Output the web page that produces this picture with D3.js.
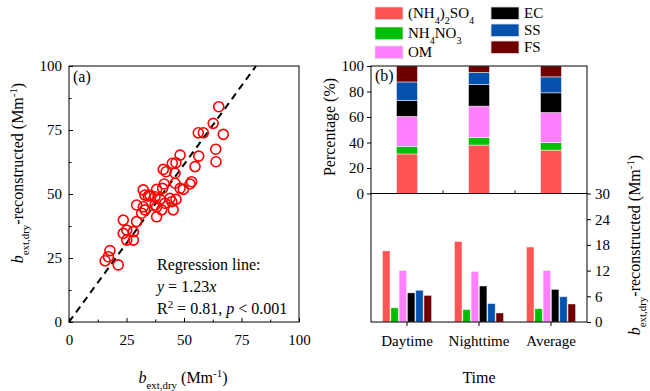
<!DOCTYPE html>
<html>
<head>
<meta charset="utf-8">
<script src="https://cdn.jsdelivr.net/npm/d3@7"></script>
<style>
body{margin:0;background:#fff;}
</style>
</head>
<body>
<div id="chart"></div>
<script>
// (a) scatter: b_ext,dry vs reconstructed
var scatter_x = [65.1,62.7,56.2,58.4,67.1,63.8,63.9,48.3,46.5,56.4,54.8,44.9,41.0,42.2,46.1,53.3,46.1,41.4,49.7,38.1,
                 40.7,32.3,34.5,37.4,46.5,39.6,41.7,29.4,32.3,38.1,33.0,35.2,48.3,52.6,37.4,33.0,40.3,44.7,45.3,31.6,
                 23.6,29.4,25.1,23.6,28.0,25.1,28.0,17.8,17.1,15.7,21.4,43.9,38.1];
var scatter_y = [84.1,77.6,73.9,73.9,73.3,67.5,62.6,65.2,62.2,64.8,60.7,62.0,59.6,58.7,58.1,54.8,54.2,53.9,51.8,51.8,
                 52.2,51.6,49.2,48.9,47.9,47.9,46.4,45.7,45.0,45.0,49.6,49.6,52.2,53.9,45.7,43.8,43.8,47.0,43.8,42.5,
                 39.8,39.2,35.9,34.6,35.3,32.0,32.0,27.9,25.5,23.9,22.3,48.3,41.1];
var slope = 1.23;

// (b) composition
var times = ['Daytime', 'Nighttime', 'Average'];
var species = ['ASO', 'AN', 'OM', 'EC', 'SS', 'FS'];
var species_colors = ['#fe5454', '#00bf00', '#ff80ff', '#000000', '#0451ae', '#6e0000'];
var pct_daytime = [31, 6, 23.5, 12.5, 14.5, 12.5];
var pct_nighttime = [38, 6, 24.5, 17, 9.5, 5];
var pct_average = [34, 6, 23.5, 15.5, 12.5, 8.5];
var ext_daytime = [16.6, 3.3, 12.0, 6.8, 7.4, 6.2];
var ext_nighttime = [18.8, 2.9, 11.8, 8.4, 4.3, 2.1];
var ext_average = [17.5, 3.1, 12.0, 7.6, 5.9, 4.2];
var x_ticks_a = [0, 25, 50, 75, 100];
var y_ticks_pct = [0, 20, 40, 60, 80, 100];
var y_ticks_ext = [0, 6, 12, 18, 24, 30];

// label parts: [text, style]  style: '' normal, 'i' italic, 'sub', 'sup'
var legend_labels = [
    [['(NH',''],['4','sub'],[')',''],['2','sub'],['SO',''],['4','sub']],
    [['NH',''],['4','sub'],['NO',''],['3','sub']],
    [['OM','']],
    [['EC','']],
    [['SS','']],
    [['FS','']]
];

var FONT = 'Liberation Serif';

function rich(sel, parts, size) {
    parts.forEach(function (p) {
        var t = sel.append('tspan').text(p[0]);
        if (p[1] == 'i') t.attr('font-style', 'italic');
        if (p[1] == 'sub') t.attr('baseline-shift', 'sub').attr('font-size', size * 0.68);
        if (p[1] == 'sup') t.attr('baseline-shift', 'super').attr('font-size', size * 0.68);
    });
    return sel;
}

var W = 650, H = 391;
var svg = d3.select('#chart').append('svg').attr('width', W).attr('height', H);

// ---------- panel (a) ----------
var xa = d3.scaleLinear().domain([0, 100]).range([69, 299]);
var ya = d3.scaleLinear().domain([0, 100]).range([322, 66]);
var ga = svg.append('g');

ga.append('g').attr('transform', 'translate(0,322)')
    .call(d3.axisBottom(xa).tickValues(x_ticks_a).tickSize(-4).tickPadding(12))
    .call(g => g.select('.domain').remove());
ga.append('g').attr('transform', 'translate(0,322)')
    .call(d3.axisBottom(xa).tickValues([12.5, 37.5, 62.5, 87.5]).tickSize(-2.5).tickFormat(''))
    .call(g => g.select('.domain').remove());
ga.append('g').attr('transform', 'translate(69,0)')
    .call(d3.axisLeft(ya).tickValues(x_ticks_a).tickSize(-4).tickPadding(7))
    .call(g => g.select('.domain').remove());
ga.append('g').attr('transform', 'translate(69,0)')
    .call(d3.axisLeft(ya).tickValues([12.5, 37.5, 62.5, 87.5]).tickSize(-2.5).tickFormat(''))
    .call(g => g.select('.domain').remove());
ga.selectAll('.tick text').attr('font-size', 15);

ga.append('rect').attr('x', 69).attr('y', 66).attr('width', 230).attr('height', 256)
    .attr('fill', 'none').attr('stroke', '#000').attr('stroke-width', 1);

ga.append('line')
    .attr('x1', xa(0)).attr('y1', ya(0)).attr('x2', xa(100 / slope)).attr('y2', ya(100))
    .attr('stroke', '#000').attr('stroke-width', 2).attr('stroke-dasharray', '7,5');

ga.selectAll('circle.pt').data(scatter_x).enter().append('circle')
    .attr('class', 'pt')
    .attr('cx', (d, i) => xa(d)).attr('cy', (d, i) => ya(scatter_y[i]))
    .attr('r', 5).attr('fill', 'none').attr('stroke', '#ff0000').attr('stroke-width', 1.6);

ga.append('text').attr('x', 73).attr('y', 82).attr('font-size', 16).text('(a)');
ga.append('text').attr('x', 157).attr('y', 270).attr('font-size', 16).text('Regression line:');
rich(ga.append('text').attr('x', 157).attr('y', 292).attr('font-size', 16),
    [['y','i'],[' = 1.23',''],['x','i']], 16);
rich(ga.append('text').attr('x', 157).attr('y', 314).attr('font-size', 16),
    [['R',''],['2','sup'],[' = 0.81, ',''],['p','i'],[' < 0.001','']], 16);

rich(ga.append('text').attr('x', 183).attr('y', 383).attr('font-size', 16).attr('text-anchor', 'middle'),
    [['b','i'],['ext,dry','sub'],[' (Mm',''],['-1','sup'],[')','']], 16);
rich(ga.append('text').attr('transform', 'translate(23,173) rotate(-90)').attr('font-size', 16).attr('text-anchor', 'middle'),
    [['b','i'],['ext,dry','sub'],['-reconstructed (Mm',''],['-1','sup'],[')','']], 16);

// ---------- panel (b) ----------
var xb = d3.scaleBand().domain(times).range([371, 587]);
var yp = d3.scaleLinear().domain([0, 100]).range([193.5, 66]);
var ye = d3.scaleLinear().domain([0, 30]).range([322, 193.5]);
var gb = svg.append('g');

var pct_rows = [pct_daytime, pct_nighttime, pct_average].map(function (arr, i) {
    var r = {time: times[i]};
    species.forEach((s, j) => r[s] = arr[j]);
    return r;
});
var stacked = d3.stack().keys(species)(pct_rows);
var bw = 21;
gb.selectAll('g.layer').data(stacked).enter().append('g')
    .attr('fill', (d, i) => species_colors[i])
    .selectAll('rect').data(d => d).enter().append('rect')
    .attr('x', d => xb(d.data.time) + xb.bandwidth() / 2 - bw / 2)
    .attr('width', bw)
    .attr('y', d => yp(d[1]))
    .attr('height', d => yp(d[0]) - yp(d[1]))
    .attr('stroke', '#fff').attr('stroke-opacity', 0.6).attr('stroke-width', 0.8);

var ext_rows = [ext_daytime, ext_nighttime, ext_average];
var x1 = d3.scaleBand().domain(species).range([-24.5, 24.5]).paddingInner(0.1);
gb.selectAll('g.grp').data(ext_rows).enter().append('g')
    .attr('transform', (d, i) => 'translate(' + (xb(times[i]) + xb.bandwidth() / 2) + ',0)')
    .selectAll('rect').data(d => d).enter().append('rect')
    .attr('x', (d, j) => x1(species[j]))
    .attr('width', x1.bandwidth())
    .attr('y', d => ye(d))
    .attr('height', d => ye(0) - ye(d))
    .attr('fill', (d, j) => species_colors[j])
    .attr('stroke', '#fff').attr('stroke-opacity', 0.5).attr('stroke-width', 0.8);

gb.append('g').attr('transform', 'translate(371,0)')
    .call(d3.axisLeft(yp).tickValues(y_ticks_pct).tickSize(4).tickPadding(3))
    .call(g => g.select('.domain').remove());
gb.append('g').attr('transform', 'translate(587,0)')
    .call(d3.axisRight(ye).tickValues(y_ticks_ext).tickSize(4).tickPadding(4))
    .call(g => g.select('.domain').remove());
gb.append('g').attr('transform', 'translate(0,322)')
    .call(d3.axisBottom(xb).tickSize(4).tickPadding(9))
    .call(g => g.select('.domain').remove());
// small inward marks between categories on upper panel
gb.append('g').attr('transform', 'translate(0,193.5)')
    .call(d3.axisBottom(xb).tickValues(times.slice(1)).tickSize(-3).tickFormat(''))
    .call(g => g.select('.domain').remove())
    .call(g => g.selectAll('.tick').attr('transform', d => 'translate(' + xb(d) + ',0)'));
gb.selectAll('.tick text').attr('font-size', 15);

gb.append('rect').attr('x', 371).attr('y', 66).attr('width', 216).attr('height', 127.5)
    .attr('fill', 'none').attr('stroke', '#000');
gb.append('rect').attr('x', 371).attr('y', 193.5).attr('width', 216).attr('height', 128.5)
    .attr('fill', 'none').attr('stroke', '#000');

gb.append('text').attr('x', 375).attr('y', 81).attr('font-size', 16).text('(b)');
gb.append('text').attr('transform', 'translate(335,127) rotate(-90)').attr('font-size', 16)
    .attr('text-anchor', 'middle').text('Percentage (%)');
gb.append('text').attr('x', 479).attr('y', 383).attr('font-size', 16).attr('text-anchor', 'middle').text('Time');
rich(gb.append('text').attr('transform', 'translate(640,245) rotate(-90)').attr('font-size', 16).attr('text-anchor', 'middle'),
    [['b','i'],['ext,dry','sub'],['-reconstructed (Mm',''],['-1','sup'],[')','']], 16);

// legend
var leg_pos = [[375, 7], [375, 27], [375, 46], [491, 7], [491, 24], [491, 41]];
species.forEach(function (s, i) {
    var p = leg_pos[i];
    svg.append('rect').attr('x', p[0]).attr('y', p[1]).attr('width', 28).attr('height', 12.5)
        .attr('fill', species_colors[i]).attr('stroke', '#ddd').attr('stroke-width', 0.8);
    rich(svg.append('text').attr('x', p[0] + 33).attr('y', p[1] + 11).attr('font-size', 15),
        legend_labels[i], 15);
});

// serif everywhere, including axis groups
svg.selectAll('g').attr('font-family', FONT);
svg.selectAll('text').attr('font-family', FONT).style('font-family', FONT).attr('fill', '#000');
</script>
</body>
</html>
